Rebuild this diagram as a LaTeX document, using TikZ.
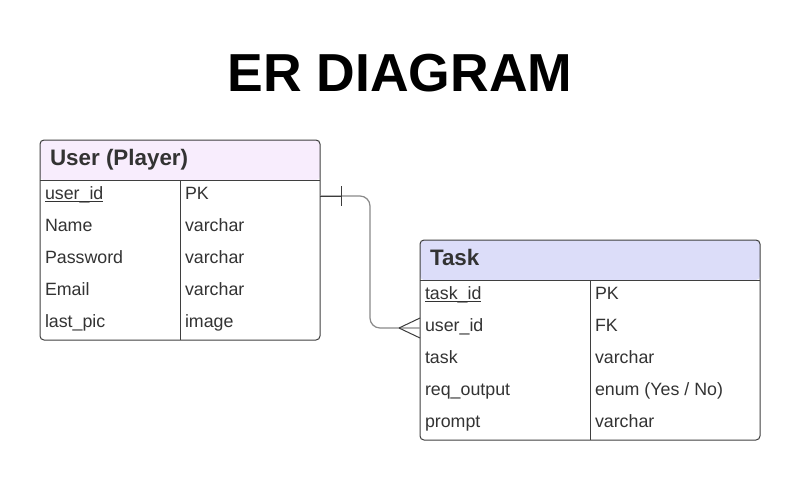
\documentclass[tikz,border=0pt]{standalone}
\usepackage{fontspec}
\setmainfont{Liberation Sans}
\usetikzlibrary{calc}
\definecolor{tblborder}{HTML}{3F3F3F}
\definecolor{connline}{HTML}{8A8A8A}
\definecolor{markcol}{HTML}{3C3C3C}
\definecolor{txtcol}{HTML}{333333}
\definecolor{userfill}{HTML}{F8EDFD}
\definecolor{taskfill}{HTML}{DCDDF9}
\newcommand\ulx[1]{\setbox0\hbox{#1}\rlap{\rule[-3pt]{\wd0}{0.9pt}}\box0}
\begin{document}
\begin{tikzpicture}[x=1pt,y=-1pt,
  every node/.style={inner sep=0pt, outer sep=0pt},
  tablebox/.style={draw=tblborder, line width=1pt, rounded corners=4pt, anchor=north west},
  tblline/.style={draw=tblborder, line width=1pt},
  conn/.style={draw=connline, line width=1.2pt},
  relmark/.style={draw=markcol, line width=1pt},
  celltxt/.style={anchor=base west, font=\fontsize{17.8}{20}\selectfont, text=txtcol},
  hdrtxt/.style={anchor=base west, font=\fontsize{22.4}{24}\selectfont\bfseries, text=txtcol},
  titletxt/.style={anchor=base, font=\fontsize{53.5}{60}\selectfont\bfseries, text=black}]
\useasboundingbox (0,0) rectangle (800,480);
\fill[white] (0,0) rectangle (800,480);

\node[titletxt] (title) at (400,91) {ER DIAGRAM};

% User table
\node[tablebox, minimum width=280pt, minimum height=200pt,
  path picture={\fill[userfill] (path picture bounding box.north west) rectangle ([yshift=-40pt]path picture bounding box.north east);}]
  (user) at (40,140) {};
\draw[tblline] ([yshift=-40pt]user.north west) -- ([yshift=-40pt]user.north east);
\draw[tblline] ([xshift=140pt,yshift=-40pt]user.north west) -- ([xshift=140pt]user.south west);
\node[hdrtxt] (userhdr) at (50,165) {User (Player)};
\node[celltxt] (u1) at (45,199) {\ulx{user\_id}};
\node[celltxt] (u2) at (45,231) {Name};
\node[celltxt] (u3) at (45,263) {Password};
\node[celltxt] (u4) at (45,295) {Email};
\node[celltxt] (u5) at (45,327) {last\_pic};
\node[celltxt] (ut1) at (185,199) {PK};
\node[celltxt] (ut2) at (185,231) {varchar};
\node[celltxt] (ut3) at (185,263) {varchar};
\node[celltxt] (ut4) at (185,295) {varchar};
\node[celltxt] (ut5) at (185,327) {image};

% Task table
\node[tablebox, minimum width=340pt, minimum height=200pt,
  path picture={\fill[taskfill] (path picture bounding box.north west) rectangle ([yshift=-40pt]path picture bounding box.north east);}]
  (task) at (420,240) {};
\draw[tblline] ([yshift=-40pt]task.north west) -- ([yshift=-40pt]task.north east);
\draw[tblline] ([xshift=170pt,yshift=-40pt]task.north west) -- ([xshift=170pt]task.south west);
\node[hdrtxt] (taskhdr) at (430,265) {Task};
\node[celltxt] (t1) at (425,299) {\ulx{task\_id}};
\node[celltxt] (t2) at (425,331) {user\_id};
\node[celltxt] (t3) at (425,363) {task};
\node[celltxt] (t4) at (425,395) {req\_output};
\node[celltxt] (t5) at (425,427) {prompt};
\node[celltxt] (tt1) at (595,299) {PK};
\node[celltxt] (tt2) at (595,331) {FK};
\node[celltxt] (tt3) at (595,363) {varchar};
\node[celltxt] (tt4) at (595,395) {enum (Yes / No)};
\node[celltxt] (tt5) at (595,427) {varchar};

% Connector
\coordinate (ustart) at ([yshift=-56pt]user.north east);
\coordinate (tend) at ([yshift=-88pt]task.north west);
\coordinate (bend) at (370,0);
\draw[conn, rounded corners=10pt] (ustart) -- (ustart -| bend) -- (bend |- tend) -- (tend);
\draw[relmark] (ustart) -- ($(ustart)+(21,0)$);
\draw[relmark] ($(ustart)+(21,-10)$) -- ($(ustart)+(21,10)$);
\draw[relmark] ($(tend)+(-21,0)$) -- ($(tend)+(0,-10)$);
\draw[relmark] ($(tend)+(-21,0)$) -- ($(tend)+(0,10)$);
\end{tikzpicture}
\end{document}
